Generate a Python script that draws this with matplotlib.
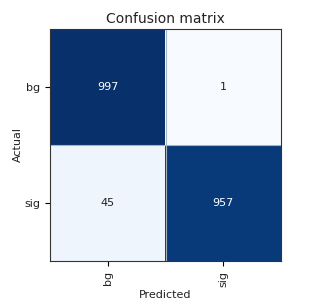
import matplotlib
matplotlib.use("Agg")
import matplotlib.pyplot as plt
import numpy as np

labels = ["bg", "sig"]
matrix = [[997, 1], [45, 957]]

cm = np.array(matrix)
fig = plt.figure(figsize=(3.32, 3.06), dpi=100)
ax = fig.add_axes([50/332, 1 - 261/306, 231/332, 232/306])
ax.imshow(cm, cmap="Blues", interpolation="nearest", aspect="auto")
ax.set_title("Confusion matrix", fontsize=10, pad=4, color="#222222")
ax.set_xticks(range(len(labels)))
ax.set_yticks(range(len(labels)))
ax.set_xticklabels(labels, rotation=90, fontsize=8, color="#222222")
ax.set_yticklabels(labels, fontsize=8, color="#222222")
ax.set_xlabel("Predicted", fontsize=8, labelpad=2, color="#222222")
ax.set_ylabel("Actual", fontsize=8, labelpad=1, color="#222222")
thresh = cm.max() / 2
for i in range(cm.shape[0]):
    for j in range(cm.shape[1]):
        ax.text(j, i, str(cm[i, j]), ha="center", va="center", fontsize=8,
                color="white" if cm[i, j] > thresh else "#222222")
ax.axhline(0.5, color="#aab4c0", lw=0.8)
ax.axvline(0.5, color="#aab4c0", lw=0.8)
for s in ax.spines.values():
    s.set_color("#333333")
    s.set_linewidth(0.8)
fig.savefig("out.png", dpi=100)
